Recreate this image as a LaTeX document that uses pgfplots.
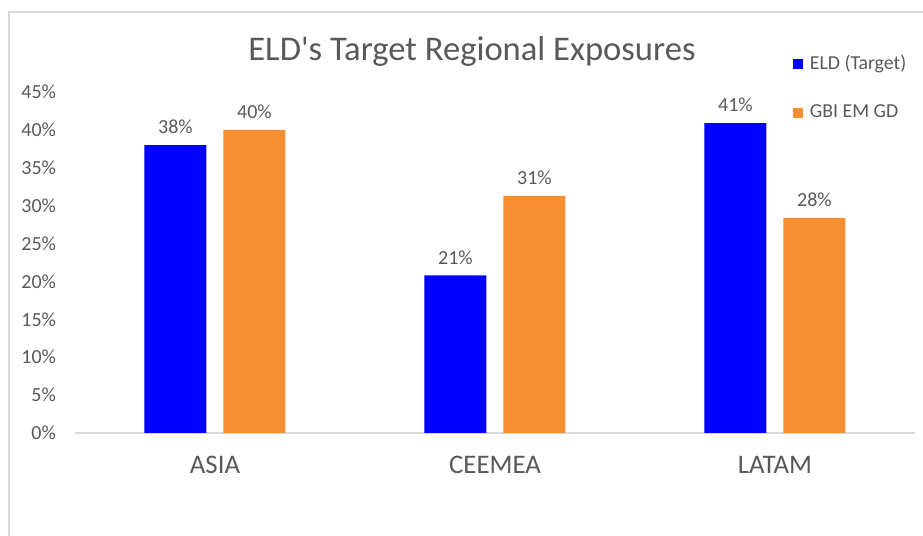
\documentclass[border=0pt]{standalone}
\usepackage{fontspec}
\setmainfont{Carlito}
\usepackage{pgfplots}
\pgfplotsset{compat=1.18}
\definecolor{eldblue}{RGB}{0,0,255}
\definecolor{gbiorange}{RGB}{245,143,49}
\definecolor{txtgray}{RGB}{89,89,89}
\definecolor{linegray}{RGB}{217,217,217}
\begin{document}
\begin{tikzpicture}[x=1pt,y=1pt]
\path[use as bounding box] (0,0) rectangle (461.5,268);
\draw[linegray, line width=0.8pt] (4.5,0) -- (4.5,262) -- (461.5,262);
\begin{axis}[
  at={(37.5pt,51.5pt)}, anchor=south west,
  scale only axis, width=420pt, height=170.5pt,
  ybar=8.5pt, bar width=31pt,
  xmin=-0.5, xmax=2.5, ymin=0, ymax=45,
  xtick={0,1,2}, xticklabels={ASIA,CEEMEA,LATAM},
  ytick={0,5,...,45},
  yticklabel={\pgfmathprintnumber{\tick}\%},
  /pgf/number format/assume math mode=true,
  axis lines=left,
  axis line style={-},
  x axis line style={linegray, line width=0.8pt},
  y axis line style={draw=none},
  tick style={draw=none},
  major tick length=0pt,
  xticklabel style={font=\fontsize{13.4}{16}\selectfont, text=txtgray, yshift=-8pt},
  yticklabel style={font=\fontsize{10}{12}\selectfont, text=txtgray, xshift=-6pt},
  nodes near coords={\pgfmathprintnumber[fixed,precision=0]{\pgfplotspointmeta}\%},
  every node near coord/.append style={font=\fontsize{10}{12}\selectfont, text=txtgray, yshift=2pt},
  title={ELD\textquotesingle s Target Regional Exposures},
  title style={at={(0.4726,1.085)}, anchor=center, font=\fontsize{17.3}{20}\selectfont, text=txtgray},
  legend style={at={(0.847,1.132)}, anchor=north west, draw=none, fill=none,
    font=\fontsize{9.9}{11}\selectfont, text=txtgray, row sep=12pt,
    /tikz/every odd column/.append style={column sep=1.5pt}},
  legend cell align=left,
  legend image code/.code={\fill[#1] (0pt,-2.5pt) rectangle (5pt,2.5pt);},
  clip=false,
]
\addplot[fill=eldblue, draw=none]
  coordinates {(0,38) (1,20.8) (2,40.9)};
\addplot[fill=gbiorange, draw=none]
  coordinates {(0,40) (1,31.3) (2,28.4)};
\legend{ELD (Target), GBI EM GD}
\end{axis}
\end{tikzpicture}
\end{document}
